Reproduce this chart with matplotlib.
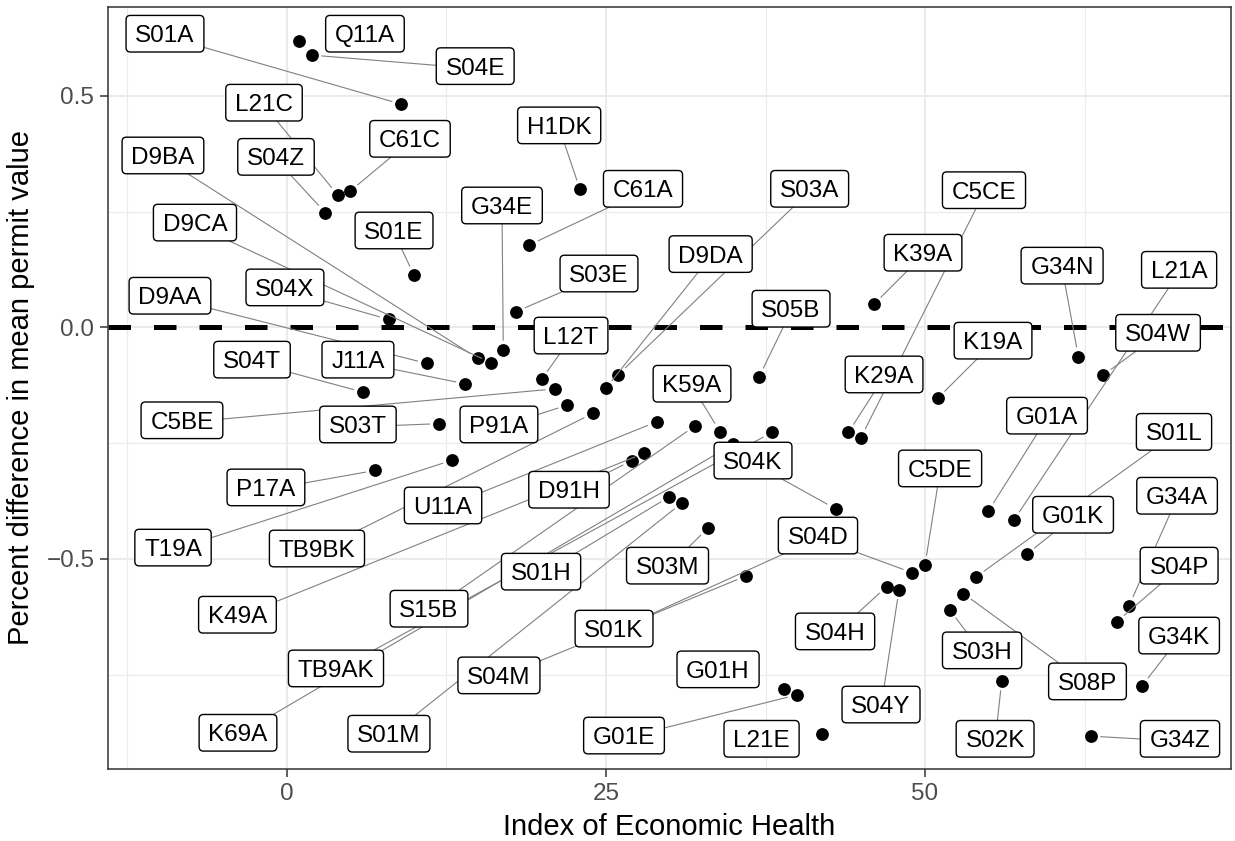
import matplotlib.pyplot as plt
from matplotlib.patches import BoxStyle

plt.rcParams['font.family'] = ['Liberation Sans', 'DejaVu Sans']

# permit codes with economic health index and % difference in mean permit value
codes = ['S01A', 'Q11A', 'S04E', 'L21C', 'C61C', 'S04Z', 'D9BA', 'D9CA',
         'S01E', 'H1DK', 'C61A', 'S03A', 'D9DA', 'G34E', 'S03E', 'S04X',
         'D9AA', 'J11A', 'S04T', 'S05B', 'K39A', 'C5CE', 'K29A', 'G34N',
         'L21A', 'S04W', 'K19A', 'L12T', 'C5BE', 'S03T', 'P91A', 'K59A',
         'P17A', 'T19A', 'U11A', 'TB9BK', 'K49A', 'D91H', 'S15B', 'S01H',
         'S01M', 'K69A', 'TB9AK', 'S04K', 'S03M', 'S04M', 'S01K', 'S04D',
         'S04H', 'S04Y', 'C5DE', 'G01A', 'G01K', 'S01L', 'S08P', 'S03H',
         'S02K', 'G34A', 'S04P', 'G34K', 'G34Z', 'G01H', 'G01E', 'L21E']
econ_index = [8.96, 0.96, 1.96, 3.97, 4.94, 3.0, 14.95, 15.96,
              9.95, 22.96, 18.99, 25.96, 24.98, 16.95, 17.95, 7.97,
              10.97, 13.97, 5.96, 36.99, 46.0, 44.98, 43.99, 62.01,
              56.97, 63.97, 51.0, 19.96, 20.98, 11.94, 21.97, 33.93,
              6.92, 12.95, 28.97, 23.96, 27.98, 27.01, 31.97, 29.96,
              30.96, 34.98, 37.99, 42.99, 32.97, 35.97, 41.1, 49.0,
              46.99, 47.96, 50.0, 54.96, 57.97, 54.0, 53.0, 51.96,
              56.01, 65.99, 65.02, 67.01, 62.99, 38.95, 39.95, 41.95]
pct_diff = [0.482, 0.618, 0.588, 0.286, 0.294, 0.248, -0.067, -0.076,
            0.113, 0.298, 0.178, -0.102, -0.132, -0.049, 0.034, 0.017,
            -0.078, -0.122, -0.140, -0.107, 0.050, -0.238, -0.227, -0.063,
            -0.416, -0.103, -0.153, -0.112, -0.133, -0.208, -0.168, -0.225,
            -0.309, -0.287, -0.204, -0.186, -0.272, -0.288, -0.213, -0.366,
            -0.379, -0.252, -0.227, -0.392, -0.434, -0.537, -0.462, -0.530,
            -0.560, -0.567, -0.513, -0.397, -0.490, -0.539, -0.575, -0.611,
            -0.764, -0.601, -0.636, -0.774, -0.883, -0.781, -0.794, -0.879]

# hand placed label spots (data coords), copying the repel layout
label_xy = {
    'S01A': (-9.56, 0.629), 'Q11A': (6.11, 0.629), 'S04E': (14.75, 0.559),
    'L21C': (-1.80, 0.480), 'C61C': (9.64, 0.402), 'D9BA': (-9.72, 0.366),
    'S04Z': (-0.86, 0.363), 'H1DK': (21.33, 0.431), 'C61A': (27.90, 0.294),
    'S03A': (40.96, 0.294), 'G34E': (16.85, 0.258), 'D9CA': (-7.21, 0.221),
    'S01E': (8.39, 0.204), 'C5CE': (54.62, 0.291), 'D9DA': (33.20, 0.153),
    'S03E': (24.45, 0.111), 'K39A': (49.84, 0.156), 'G34N': (60.74, 0.128),
    'L21A': (69.91, 0.119), 'S04X': (-0.16, 0.081), 'D9AA': (-9.17, 0.063),
    'S05B': (39.50, 0.035), 'L12T': (22.26, -0.023), 'S04W': (68.26, -0.017),
    'K19A': (55.33, -0.034), 'S04T': (-2.74, -0.075), 'J11A': (5.56, -0.075),
    'K29A': (46.79, -0.107), 'C5BE': (-8.23, -0.206), 'S03T': (5.56, -0.215),
    'P91A': (16.61, -0.215), 'K59A': (31.74, -0.127), 'G01A': (59.56, -0.196),
    'S01L': (69.51, -0.231), 'P17A': (-1.65, -0.351), 'U11A': (12.23, -0.390),
    'D91H': (22.10, -0.356), 'S04K': (36.52, -0.293), 'C5DE': (51.18, -0.310),
    'G01K': (61.60, -0.410), 'G34A': (69.75, -0.369), 'T19A': (-8.93, -0.481),
    'TB9BK': (2.35, -0.483), 'S04D': (41.61, -0.455), 'S01H': (19.91, -0.533),
    'S03M': (29.82, -0.520), 'S04P': (69.91, -0.520), 'K49A': (-3.88, -0.626),
    'S15B': (11.13, -0.613), 'S04H': (42.95, -0.662), 'S03H': (54.47, -0.703),
    'G34K': (69.91, -0.671), 'TB9AK': (3.84, -0.742), 'S01K': (25.63, -0.656),
    'S04M': (16.61, -0.757), 'G01H': (33.78, -0.744), 'S08P': (62.73, -0.770),
    'S04Y': (46.55, -0.820), 'K69A': (-3.84, -0.881), 'S01M': (7.99, -0.883),
    'G01E': (26.41, -0.887), 'L21E': (37.19, -0.894), 'S02K': (55.49, -0.894),
    'G34Z': (69.98, -0.894),
}
no_segment = ['Q11A', 'G01H', 'L21E']


class LabelBox(BoxStyle.Round):
    # round box, a bit wider than tall, nudged so the caps sit centred
    def __init__(self, pad=0.3, rounding_size=None, xpad=0.0, yshift=0.0):
        super().__init__(pad=pad, rounding_size=rounding_size)
        self.xpad = xpad
        self.yshift = yshift

    def __call__(self, x0, y0, width, height, mutation_size):
        dx = self.xpad * mutation_size
        dy = self.yshift * mutation_size
        return super().__call__(x0 - dx, y0 + dy, width + 2 * dx, height, mutation_size)


fig = plt.figure(figsize=(12.35, 8.41), dpi=100)
ax = fig.add_axes([0.0874, 0.0856, 0.9094, 0.9061])

ax.set_xlim(-14.03, 73.98)
ax.set_ylim(-0.954, 0.692)
ax.set_xticks([0, 25, 50])
ax.set_xticks([-12.5, 12.5, 37.5, 62.5], minor=True)
ax.set_yticks([-0.5, 0.0, 0.5])
ax.set_yticks([-0.75, -0.25, 0.25], minor=True)
ax.set_yticklabels(['\u22120.5', '0.0', '0.5'])
ax.set_axisbelow(True)
ax.grid(which='major', color='#EBEBEB', lw=1.5)
ax.grid(which='minor', color='#EBEBEB', lw=0.8)
ax.tick_params(which='minor', length=0)
ax.tick_params(which='major', length=5.8, width=1.1, color='#333333',
               labelsize=17.5, labelcolor='#4D4D4D', pad=4)
for sp in ax.spines.values():
    sp.set_color('#333333')
    sp.set_linewidth(1.1)

ax.axhline(0, color='black', lw=3.6, dashes=(4.5, 4.6), zorder=2)
ax.scatter(econ_index, pct_diff, s=85, color='black', linewidths=0, zorder=3)

box_style = LabelBox(pad=0.3, rounding_size=0.18, xpad=0.08, yshift=0.1)
for code, x, y in zip(codes, econ_index, pct_diff):
    tx, ty = label_xy[code]
    # segments first (invisible box only used to clip the line)
    if code not in no_segment:
        ax.annotate(code, xy=(x, y), xytext=(tx, ty), ha='center', va='center',
                    fontsize=17.5, color='none',
                    bbox=dict(boxstyle=box_style, fc='none', ec='none'),
                    arrowprops=dict(arrowstyle='-', color='#808080', lw=0.8,
                                    shrinkA=0, shrinkB=7),
                    zorder=4)
for code in codes:
    tx, ty = label_xy[code]
    ax.text(tx, ty, code, ha='center', va='center', fontsize=17.5, color='black',
            bbox=dict(boxstyle=box_style, fc='white', ec='black', lw=1.0),
            zorder=5)

ax.set_xlabel('Index of Economic Health', fontsize=21, labelpad=6)
ax.set_ylabel('Percent difference in mean permit value', fontsize=21, labelpad=8)

fig.savefig('out.png', dpi=100)
